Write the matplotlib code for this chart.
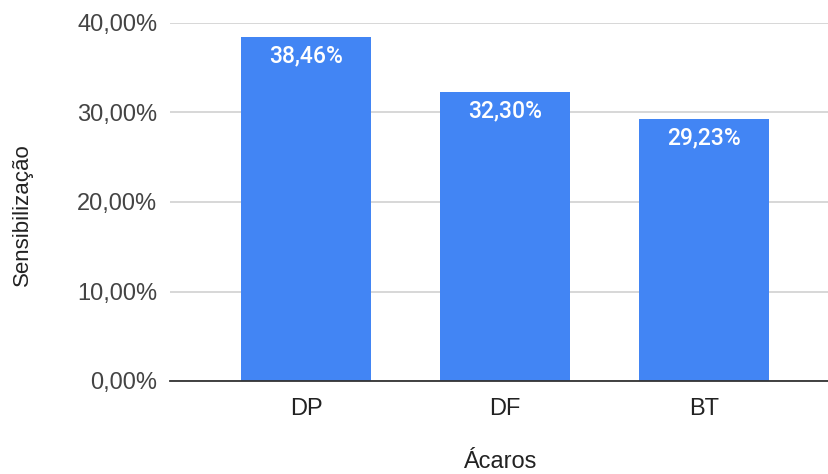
import matplotlib.pyplot as plt

categories = ["DP", "DF", "BT"]
values = [38.46, 32.30, 29.23]
value_labels = ["38,46%", "32,30%", "29,23%"]
yticks = [0, 10, 20, 30, 40]
ytick_labels = ["0,00%", "10,00%", "20,00%", "30,00%", "40,00%"]

plt.rcParams['font.family'] = ['Liberation Sans', 'DejaVu Sans']

fig = plt.figure(figsize=(8.29, 4.74), dpi=100)
ax = fig.add_axes([170 / 829, 1 - 381 / 474, 659 / 829, 358 / 474])

x = range(len(categories))
ax.bar(x, values, width=0.65, color="#4285F4", zorder=3)

for xi, v, lab in zip(x, values, value_labels):
    ax.annotate(lab, (xi, v), xytext=(0, -13.5), textcoords="offset points",
                ha="center", va="center", color="white", fontsize=16.5,
                family=["Roboto", "DejaVu Sans"], weight="medium", zorder=4)

ax.set_xlim(-0.683, 2.628)
ax.set_ylim(0, 40)
ax.set_yticks(yticks)
ax.set_yticklabels(ytick_labels)
ax.set_xticks(list(x))
ax.set_xticklabels(categories)

ax.grid(axis="y", color="#d4d4d4", lw=1.3, zorder=0)
for s in ["top", "right", "left"]:
    ax.spines[s].set_visible(False)
ax.spines["bottom"].set_color("#333333")
ax.spines["bottom"].set_linewidth(1.3)
ax.spines["bottom"].set_zorder(5)

ax.tick_params(axis="y", length=0, pad=9, labelsize=17, labelcolor="#444444")
ax.tick_params(axis="x", length=0, pad=12, labelsize=17, labelcolor="#222222")

fig.text(500 / 829, 1 - 462 / 474, "Ácaros", fontsize=17, color="#222222",
         ha="center", va="center")
fig.text(22 / 829, 1 - 215 / 474, "Sensibilização", rotation=90, fontsize=16,
         color="#222222", ha="center", va="center")

fig.savefig("out.png", dpi=100)
